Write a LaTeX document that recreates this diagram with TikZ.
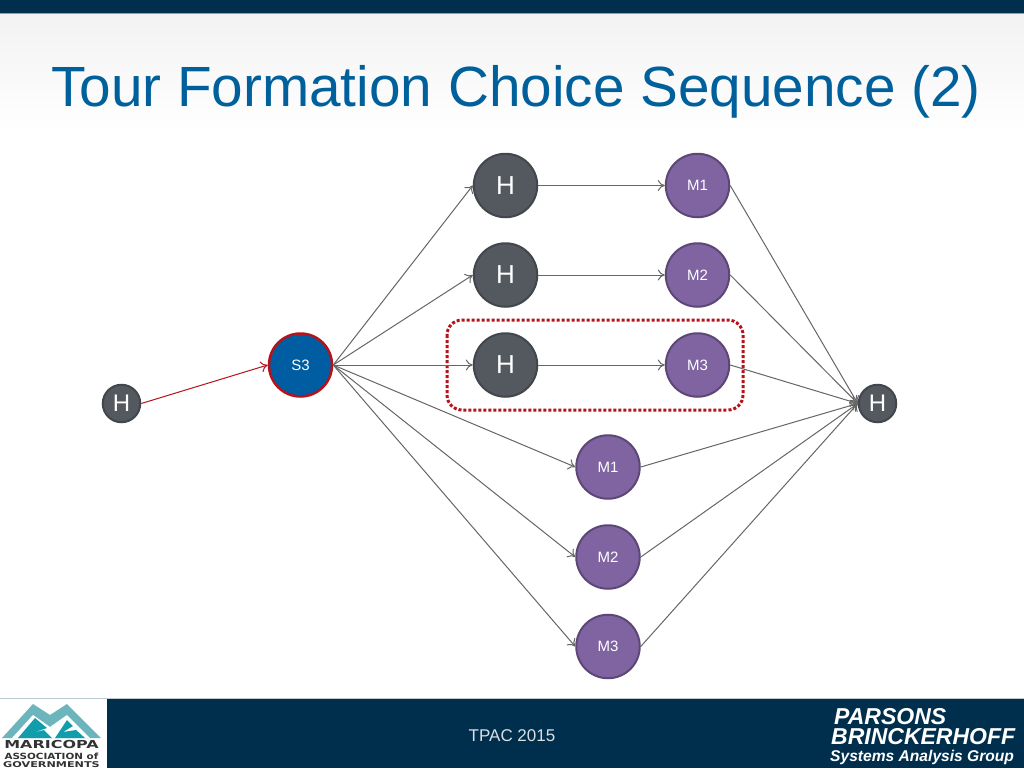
\documentclass[tikz,border=0pt]{standalone}
\usepackage{fontspec}
\setmainfont{Liberation Sans}
\newfontfamily\logofont{DejaVu Sans}
\usetikzlibrary{arrows.meta}
\definecolor{navy}{HTML}{002F4E}
\definecolor{titleblue}{HTML}{00609C}
\definecolor{hgray}{HTML}{54585F}
\definecolor{hline}{HTML}{42474D}
\definecolor{mpurple}{HTML}{8064A2}
\definecolor{mline}{HTML}{5C4776}
\definecolor{sblue}{HTML}{005DA2}
\definecolor{sred}{HTML}{B5121B}
\definecolor{teallight}{HTML}{6DB5BD}
\definecolor{tealdark}{HTML}{129DAC}
\newcommand{\logotext}[4]{
    \node[anchor=base,inner sep=0pt,xscale=#3,transform shape,font=\logofont\bfseries\fontsize{#2}{#2}\selectfont,text=black!80] at (51.5,#1) {#4};
}
\tikzset{
    hbig/.style={circle,draw=hline,fill=hgray,line width=2pt,minimum size=63.5pt,inner sep=0pt,text=white!90,font=\fontsize{26}{26}\selectfont},
    hsmall/.style={hbig,minimum size=37.5pt,font=\fontsize{24}{24}\selectfont},
    mnode/.style={circle,draw=mline,fill=mpurple,line width=2pt,minimum size=63.5pt,inner sep=0pt,text=white,font=\fontsize{15}{15}\selectfont},
    snode/.style={mnode,draw=sred,fill=sblue,line width=2.5pt,minimum size=63pt},
    link/.style={draw=black!60,line width=1pt,-{To[length=7pt,width=11pt]}}
}
\begin{document}
\begin{tikzpicture}[x=1pt,y=-1pt]
    \useasboundingbox (0,0) rectangle (1024,768);
    % background
    \fill[white] (0,0) rectangle (1024,768);
    \shade[top color=black!5,middle color=black!4,bottom color=white] (0,14) rectangle (1024,132);
    \fill[navy] (0,0) rectangle (1024,13);
    \fill[navy!45] (0,13) rectangle (1024,14);
    \fill[navy] (0,698) rectangle (1024,768);
    \fill[navy!25] (0,697.5) rectangle (1024,698.5);
    \fill[white] (0,698.5) rectangle (107,768);
    \node[anchor=base west,inner sep=0pt,text=titleblue,font=\fontsize{56.7}{57}\selectfont] (title) at (51,106) {Tour Formation Choice Sequence (2)};
    % dotted box
    \draw[sred,line width=3pt,dotted,rounded corners=15pt] (447,320) rectangle (743,410);
    % nodes
    \node[hsmall] (hstart) at (121.5,403.5) {H};
    \node[hsmall] (hend) at (877.5,403.5) {H};
    \node[snode] (s3) at (300.5,365) {S3};
    \node[hbig] (h1) at (505.5,185.5) {H};
    \node[hbig] (h2) at (505.5,275) {H};
    \node[hbig] (h3) at (505.5,365) {H};
    \node[mnode] (m1) at (697.5,185.5) {M1};
    \node[mnode] (m2) at (697.5,275) {M2};
    \node[mnode] (m3) at (697.5,365) {M3};
    \node[mnode] (n1) at (608,467) {M1};
    \node[mnode] (n2) at (608,557) {M2};
    \node[mnode] (n3) at (608,646.5) {M3};
    % connectors
    \draw[link,draw=sred] (hstart.east) -- (s3.west);
    \foreach \to in {h1,h2,h3,n1,n2,n3}
        \draw[link] (s3.east) -- (\to.west);
    \foreach \i in {1,2,3}
        \draw[link] (h\i.east) -- (m\i.west);
    \foreach \from in {m1,m2,m3,n1,n2,n3}
        \draw[link] (\from.east) -- (hend.west);
    % footer
    \node[text=white!85!navy,font=\fontsize{17}{17}\selectfont] (tpac) at (512,735.5) {TPAC 2015};
    \node[anchor=south west,inner sep=0pt,align=left,text=white,font=\bfseries\itshape\fontsize{23}{20}\selectfont] (pb) at (830,765) {\hspace*{4pt}PARSONS\\\hspace*{1pt}BRINCKERHOFF\\[-3pt]{\fontsize{15.6}{16}\selectfont Systems Analysis Group}};
    % logo
    \fill[teallight] (2,738) -- (33,704) -- (50,715) -- (67,704) -- (101,738) -- cycle;
    \fill[white] (12,738) -- (33,715) -- (50,727) -- (67,715) -- (90,738) -- cycle;
    \fill[tealdark] (18,738) -- (35,718) -- (47,728) -- (32,733) -- (44,730) -- (52,738) -- cycle;
    \fill[tealdark] (55,738) -- (67,720) -- (73,726) -- (63,732) -- (76,730) -- (85,738) -- cycle;
    \logotext{748}{11}{1.45}{MARICOPA}
    \logotext{759}{8.5}{1.22}{ASSOCIATION of}
    \logotext{767.5}{8}{1.4}{GOVERNMENTS}
\end{tikzpicture}
\end{document}
